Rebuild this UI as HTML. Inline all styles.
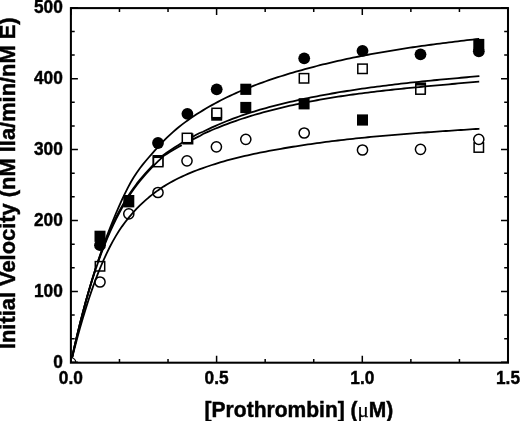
<!DOCTYPE html><html><head><meta charset="utf-8"><title>Figure</title>
<style>html,body{margin:0;padding:0;background:#fff}svg{display:block;filter:blur(0.4px)}text{font-family:"Liberation Sans",sans-serif;font-weight:bold;fill:#000}</style></head><body>
<svg width="520" height="421" viewBox="0 0 520 421">
<rect width="520" height="421" fill="#fff"/>
<g id="filled" fill="#000">
<rect x="182.4" y="133.3" width="11.0" height="11.2"/>
<rect x="94.5" y="230.7" width="11.0" height="11.2"/>
<rect x="123.3" y="195.0" width="11.0" height="12.4"/>
<rect x="152.5" y="155.0" width="11.0" height="11.2"/>
<rect x="211.2" y="109.5" width="11.0" height="11.2"/>
<rect x="240.3" y="83.7" width="11.0" height="11.2"/>
<rect x="240.3" y="101.9" width="11.0" height="11.2"/>
<rect x="298.6" y="98.2" width="11.0" height="11.2"/>
<rect x="357.0" y="114.4" width="11.0" height="11.2"/>
<rect x="415.1" y="82.4" width="11.0" height="11.2"/>
<rect x="473.3" y="38.9" width="11.0" height="11.2"/>
<circle cx="100.0" cy="245.2" r="5.9"/>
<circle cx="158.0" cy="143.0" r="5.9"/>
<circle cx="187.4" cy="113.8" r="5.9"/>
<circle cx="216.7" cy="89.3" r="5.9"/>
<circle cx="304.2" cy="58.3" r="5.9"/>
<circle cx="362.5" cy="50.8" r="5.9"/>
<circle cx="420.5" cy="54.3" r="5.9"/>
<circle cx="478.8" cy="51.3" r="5.9"/>
</g>
<g id="curves1" fill="none" stroke="#000" stroke-width="1.8" stroke-linejoin="round">
<path d="M70.90 362.70 L73.90 349.20 L76.90 336.33 L79.90 324.07 L82.90 312.39 L85.90 301.25 L88.90 290.63 L91.90 280.50 L94.90 270.83 L97.90 261.58 L100.90 252.74 L103.90 244.26 L106.90 236.12 L109.90 228.29 L112.90 220.75 L115.90 213.48 L118.90 206.52 L121.90 199.87 L124.90 193.55 L127.90 187.59 L130.90 182.05 L133.90 177.00 L136.90 172.42 L139.90 168.24 L142.90 164.37 L145.90 160.73 L148.90 157.24 L151.90 153.83 L154.90 150.44 L157.90 147.08 L160.90 143.81 L163.90 140.66 L166.90 137.67 L169.90 134.81 L172.90 132.09 L175.90 129.49 L178.90 127.01 L181.90 124.64 L184.90 122.37 L187.90 120.18 L190.90 118.09 L193.90 116.06 L196.90 114.11 L199.90 112.21 L202.90 110.37 L205.90 108.58 L208.90 106.83 L211.90 105.13 L214.90 103.48 L217.90 101.88 L220.90 100.31 L223.90 98.79 L226.90 97.31 L229.90 95.87 L232.90 94.47 L235.90 93.10 L238.90 91.77 L241.90 90.48 L244.90 89.22 L247.90 87.99 L250.90 86.79 L253.90 85.63 L256.90 84.49 L259.90 83.37 L262.90 82.29 L265.90 81.23 L268.90 80.19 L271.90 79.17 L274.90 78.18 L277.90 77.21 L280.90 76.25 L283.90 75.31 L286.90 74.39 L289.90 73.48 L292.90 72.59 L295.90 71.71 L298.90 70.85 L301.90 70.01 L304.90 69.18 L307.90 68.36 L310.90 67.56 L313.90 66.77 L316.90 66.00 L319.90 65.24 L322.90 64.49 L325.90 63.76 L328.90 63.04 L331.90 62.33 L334.90 61.63 L337.90 60.95 L340.90 60.28 L343.90 59.62 L346.90 58.97 L349.90 58.34 L352.90 57.71 L355.90 57.10 L358.90 56.50 L361.90 55.90 L364.90 55.32 L367.90 54.75 L370.90 54.19 L373.90 53.64 L376.90 53.10 L379.90 52.56 L382.90 52.04 L385.90 51.53 L388.90 51.02 L391.90 50.52 L394.90 50.04 L397.90 49.55 L400.90 49.08 L403.90 48.62 L406.90 48.16 L409.90 47.71 L412.90 47.26 L415.90 46.83 L418.90 46.40 L421.90 45.97 L424.90 45.56 L427.90 45.14 L430.90 44.74 L433.90 44.34 L436.90 43.94 L439.90 43.55 L442.90 43.17 L445.90 42.79 L448.90 42.41 L451.90 42.04 L454.90 41.67 L457.90 41.31 L460.90 40.94 L463.90 40.59 L466.90 40.23 L469.90 39.88 L472.90 39.53 L475.90 39.19 L478.90 38.84 L479.20 38.81"/>
<path d="M70.90 362.70 L73.90 349.11 L76.90 336.18 L79.90 323.88 L82.90 312.19 L85.89 301.09 L88.86 290.55 L91.83 280.56 L94.80 271.11 L97.77 262.17 L100.74 253.73 L103.71 245.76 L106.69 238.25 L109.66 231.17 L112.63 224.51 L115.61 218.25 L118.61 212.39 L121.61 206.88 L124.61 201.71 L127.61 196.84 L130.61 192.27 L133.61 187.97 L136.61 183.92 L139.61 180.09 L142.61 176.47 L145.61 173.04 L148.61 169.76 L151.61 166.61 L154.61 163.57 L157.61 160.61 L160.61 157.70 L163.21 155.21 L166.21 153.10 L169.21 151.04 L172.21 149.04 L175.21 147.09 L178.21 145.19 L181.21 143.34 L184.21 141.54 L187.21 139.79 L190.21 138.09 L193.21 136.43 L196.21 134.81 L199.21 133.24 L199.71 132.98 L203.00 131.76 L206.00 130.28 L209.00 128.84 L212.00 127.44 L215.00 126.08 L218.00 124.76 L221.00 123.48 L224.00 122.23 L227.00 121.02 L230.00 119.84 L233.00 118.69 L236.00 117.58 L239.00 116.50 L242.00 115.45 L245.00 114.42 L248.00 113.43 L251.00 112.46 L254.00 111.52 L257.00 110.61 L260.00 109.72 L263.00 108.85 L266.00 108.01 L269.00 107.19 L272.00 106.39 L275.00 105.61 L278.00 104.85 L281.00 104.10 L284.00 103.37 L287.00 102.66 L290.00 101.97 L293.00 101.28 L296.00 100.61 L299.00 99.96 L302.00 99.31 L305.00 98.68 L308.00 98.06 L311.00 97.45 L314.00 96.86 L317.00 96.27 L320.00 95.70 L323.00 95.14 L326.00 94.58 L329.00 94.04 L332.00 93.51 L335.00 92.99 L338.00 92.48 L341.00 91.98 L344.00 91.49 L347.00 91.01 L350.00 90.53 L353.00 90.07 L356.00 89.62 L359.00 89.17 L362.00 88.73 L365.00 88.31 L368.00 87.88 L371.00 87.47 L374.00 87.07 L377.00 86.67 L380.00 86.28 L383.00 85.89 L386.00 85.52 L389.00 85.15 L392.00 84.78 L395.00 84.43 L398.00 84.08 L401.00 83.73 L404.00 83.39 L407.00 83.06 L410.00 82.73 L413.00 82.41 L416.00 82.09 L419.00 81.77 L422.00 81.46 L425.00 81.16 L428.00 80.86 L431.00 80.56 L434.00 80.27 L437.00 79.98 L440.00 79.69 L443.00 79.41 L446.00 79.13 L449.00 78.85 L452.00 78.58 L455.00 78.31 L458.00 78.04 L461.00 77.77 L464.00 77.50 L467.00 77.24 L470.00 76.97 L473.00 76.71 L476.00 76.45 L479.00 76.19 L479.40 76.15"/>
</g>
<g id="open" fill="#fff" stroke="#000" stroke-width="1.5">
<rect x="95.3" y="261.6" width="9.4" height="9.4"/>
<rect x="153.5" y="157.3" width="9.4" height="9.4"/>
<rect x="182.3" y="133.3" width="9.4" height="9.4"/>
<rect x="212.0" y="108.3" width="9.4" height="9.4"/>
<rect x="299.3" y="73.6" width="9.4" height="9.4"/>
<rect x="357.8" y="64.1" width="9.4" height="9.4"/>
<rect x="415.8" y="84.8" width="9.4" height="9.4"/>
<rect x="474.1" y="142.8" width="9.4" height="9.4"/>
<circle cx="100.0" cy="282.0" r="5.1"/>
<circle cx="128.8" cy="213.8" r="5.1"/>
<circle cx="158.0" cy="192.5" r="5.1"/>
<circle cx="187.0" cy="160.8" r="5.1"/>
<circle cx="216.4" cy="146.8" r="5.1"/>
<circle cx="245.8" cy="139.3" r="5.1"/>
<circle cx="304.2" cy="133.0" r="5.1"/>
<circle cx="362.5" cy="150.0" r="5.1"/>
<circle cx="420.5" cy="149.3" r="5.1"/>
<circle cx="478.8" cy="139.3" r="5.1"/>
</g>
<g id="curves2" fill="none" stroke="#000" stroke-width="1.8" stroke-linejoin="round">
<path d="M70.90 362.70 L73.90 349.11 L76.90 336.18 L79.90 323.88 L82.90 312.19 L85.91 301.11 L88.94 290.63 L91.97 280.70 L95.00 271.30 L98.03 262.42 L101.06 254.04 L104.09 246.13 L107.11 238.68 L110.14 231.66 L113.17 225.05 L116.19 218.84 L119.19 212.98 L122.19 207.47 L125.19 202.29 L128.19 197.43 L131.19 192.86 L134.19 188.56 L137.19 184.51 L140.19 180.68 L143.19 177.06 L146.19 173.62 L149.19 170.35 L152.19 167.20 L155.19 164.16 L158.19 161.20 L161.19 158.29 L163.79 155.79 L166.79 153.91 L169.79 152.08 L172.79 150.29 L175.79 148.54 L178.79 146.83 L181.79 145.16"/>
<path d="M192.89 139.33 L195.89 137.84 L198.89 136.39 L200.29 135.72 L203.00 134.03 L206.00 132.67 L209.00 131.34 L212.00 130.04 L215.00 128.78 L218.00 127.55 L221.00 126.35 L224.00 125.18 L227.00 124.04 L230.00 122.93 L233.00 121.85 L236.00 120.79 L239.00 119.76 L242.00 118.76 L245.00 117.78 L248.00 116.83 L251.00 115.91 L254.00 115.00 L257.00 114.12 L260.00 113.26 L263.00 112.42 L266.00 111.61 L269.00 110.81 L272.00 110.03 L275.00 109.27 L278.00 108.53 L281.00 107.80 L284.00 107.09 L287.00 106.40 L290.00 105.72 L293.00 105.06 L296.00 104.41 L299.00 103.78 L302.00 103.16 L305.00 102.55 L308.00 101.96 L311.00 101.38 L314.00 100.81 L317.00 100.26 L320.00 99.72 L323.00 99.19 L326.00 98.67 L329.00 98.17 L332.00 97.67 L335.00 97.19 L338.00 96.72 L341.00 96.26 L344.00 95.81 L347.00 95.37 L350.00 94.93 L353.00 94.51 L356.00 94.10 L359.00 93.69 L362.00 93.30 L365.00 92.91 L368.00 92.53 L371.00 92.16 L374.00 91.80 L377.00 91.44 L380.00 91.09 L383.00 90.74 L386.00 90.41 L389.00 90.08 L392.00 89.75 L395.00 89.43 L398.00 89.11 L401.00 88.80 L404.00 88.50 L407.00 88.20 L410.00 87.90 L413.00 87.61 L416.00 87.32 L419.00 87.03 L422.00 86.75 L425.00 86.46 L428.00 86.19 L431.00 85.91 L434.00 85.63 L437.00 85.36 L440.00 85.09 L443.00 84.82 L446.00 84.55 L449.00 84.28 L452.00 84.01 L455.00 83.74 L458.00 83.47 L461.00 83.20 L464.00 82.92 L467.00 82.65 L470.00 82.38 L473.00 82.10 L476.00 81.82 L479.00 81.54 L479.20 81.52"/>
<path d="M70.90 362.70 L73.90 350.71 L76.90 339.27 L79.90 328.36 L82.90 317.98 L85.90 308.12 L88.90 298.76 L91.90 289.91 L94.90 281.54 L97.90 273.66 L100.90 266.24 L103.90 259.29 L106.90 252.79 L109.90 246.73 L112.90 241.10 L115.90 235.89 L118.90 231.07 L121.90 226.61 L124.90 222.48 L127.90 218.64 L130.90 215.05 L133.90 211.68 L136.90 208.49 L139.90 205.47 L142.90 202.61 L145.90 199.89 L148.90 197.32 L151.90 194.88 L154.90 192.57 L157.90 190.39 L160.90 188.32 L163.90 186.36 L166.90 184.51 L169.90 182.75 L172.90 181.09 L175.90 179.51 L178.90 178.00 L181.90 176.58 L184.90 175.21 L187.90 173.91 L190.90 172.65 L193.90 171.45 L196.90 170.28 L199.90 169.16 L202.90 168.06 L205.90 167.01 L208.90 165.98 L211.90 164.99 L214.90 164.03 L217.90 163.10 L220.90 162.20 L223.90 161.33 L226.90 160.49 L229.90 159.67 L232.90 158.88 L235.90 158.11 L238.90 157.37 L241.90 156.65 L244.90 155.94 L247.90 155.26 L250.90 154.60 L253.90 153.95 L256.90 153.32 L259.90 152.71 L262.90 152.11 L265.90 151.53 L268.90 150.95 L271.90 150.39 L274.90 149.84 L277.90 149.30 L280.90 148.77 L283.90 148.25 L286.90 147.75 L289.90 147.25 L292.90 146.76 L295.90 146.28 L298.90 145.81 L301.90 145.35 L304.90 144.90 L307.90 144.45 L310.90 144.02 L313.90 143.60 L316.90 143.18 L319.90 142.77 L322.90 142.37 L325.90 141.98 L328.90 141.60 L331.90 141.22 L334.90 140.85 L337.90 140.49 L340.90 140.14 L343.90 139.79 L346.90 139.45 L349.90 139.12 L352.90 138.79 L355.90 138.47 L358.90 138.16 L361.90 137.85 L364.90 137.54 L367.90 137.25 L370.90 136.96 L373.90 136.67 L376.90 136.39 L379.90 136.12 L382.90 135.85 L385.90 135.58 L388.90 135.32 L391.90 135.06 L394.90 134.81 L397.90 134.56 L400.90 134.32 L403.90 134.08 L406.90 133.84 L409.90 133.60 L412.90 133.37 L415.90 133.15 L418.90 132.92 L421.90 132.70 L424.90 132.48 L427.90 132.26 L430.90 132.05 L433.90 131.84 L436.90 131.63 L439.90 131.42 L442.90 131.21 L445.90 131.01 L448.90 130.80 L451.90 130.60 L454.90 130.40 L457.90 130.19 L460.90 129.99 L463.90 129.79 L466.90 129.59 L469.90 129.39 L472.90 129.19 L475.90 128.99 L478.90 128.79 L479.40 128.76"/>
</g>
<clipPath id="plotclip"><rect x="70.9" y="8.1" width="437.1" height="354.6"/></clipPath>
<circle cx="70.9" cy="362.7" r="5.0" fill="#fff" stroke="#000" stroke-width="1.1" clip-path="url(#plotclip)"/>
<g id="axes" stroke="#000" fill="none">
<rect x="70.9" y="8.1" width="437.1" height="354.6" stroke-width="2.05"/>
<path d="M70.90 362.70V355.70 M70.90 8.10V15.10 M119.47 362.70V358.90 M119.47 8.10V11.90 M168.03 362.70V358.90 M168.03 8.10V11.90 M216.60 362.70V355.70 M216.60 8.10V15.10 M265.17 362.70V358.90 M265.17 8.10V11.90 M313.73 362.70V358.90 M313.73 8.10V11.90 M362.30 362.70V355.70 M362.30 8.10V15.10 M410.87 362.70V358.90 M410.87 8.10V11.90 M459.43 362.70V358.90 M459.43 8.10V11.90 M508.00 362.70V355.70 M508.00 8.10V15.10 M70.90 362.30H77.90 M508.00 362.30H501.00 M70.90 338.67H74.70 M508.00 338.67H504.20 M70.90 315.03H74.70 M508.00 315.03H504.20 M70.90 291.40H77.90 M508.00 291.40H501.00 M70.90 267.77H74.70 M508.00 267.77H504.20 M70.90 244.13H74.70 M508.00 244.13H504.20 M70.90 220.50H77.90 M508.00 220.50H501.00 M70.90 196.87H74.70 M508.00 196.87H504.20 M70.90 173.23H74.70 M508.00 173.23H504.20 M70.90 149.60H77.90 M508.00 149.60H501.00 M70.90 125.97H74.70 M508.00 125.97H504.20 M70.90 102.33H74.70 M508.00 102.33H504.20 M70.90 78.70H77.90 M508.00 78.70H501.00 M70.90 55.07H74.70 M508.00 55.07H504.20 M70.90 31.43H74.70 M508.00 31.43H504.20 M70.90 7.80H77.90 M508.00 7.80H501.00 " stroke-width="1.5"/>
</g>
<g id="ticklabels" font-size="17.3" stroke="#000" stroke-width="0.4">
<text transform="translate(62.8 367.5) scale(1 1.08)" text-anchor="end">0</text>
<text transform="translate(62.8 296.6) scale(1 1.08)" text-anchor="end">100</text>
<text transform="translate(62.8 225.7) scale(1 1.08)" text-anchor="end">200</text>
<text transform="translate(62.8 154.8) scale(1 1.08)" text-anchor="end">300</text>
<text transform="translate(62.8 83.9) scale(1 1.08)" text-anchor="end">400</text>
<text transform="translate(62.8 13.0) scale(1 1.08)" text-anchor="end">500</text>
<text transform="translate(70.9 384.3) scale(1 1.08)" text-anchor="middle">0.0</text>
<text transform="translate(216.6 384.3) scale(1 1.08)" text-anchor="middle">0.5</text>
<text transform="translate(362.3 384.3) scale(1 1.08)" text-anchor="middle">1.0</text>
<text transform="translate(508.0 384.3) scale(1 1.08)" text-anchor="middle">1.5</text>
</g>
<text x="204.6" y="417.0" font-size="21.3" stroke="#000" stroke-width="0.45" textLength="188.8" lengthAdjust="spacingAndGlyphs">[Prothrombin] (<tspan font-family="'Liberation Serif',serif" font-weight="normal" stroke-width="0.25">μ</tspan>M)</text>
<text transform="translate(15.4 349.1) rotate(-90)" font-size="21.9" stroke="#000" stroke-width="0.45" textLength="331.7" lengthAdjust="spacingAndGlyphs">Initial Velocity (nM IIa/min/nM E)</text>
</svg></body></html>
